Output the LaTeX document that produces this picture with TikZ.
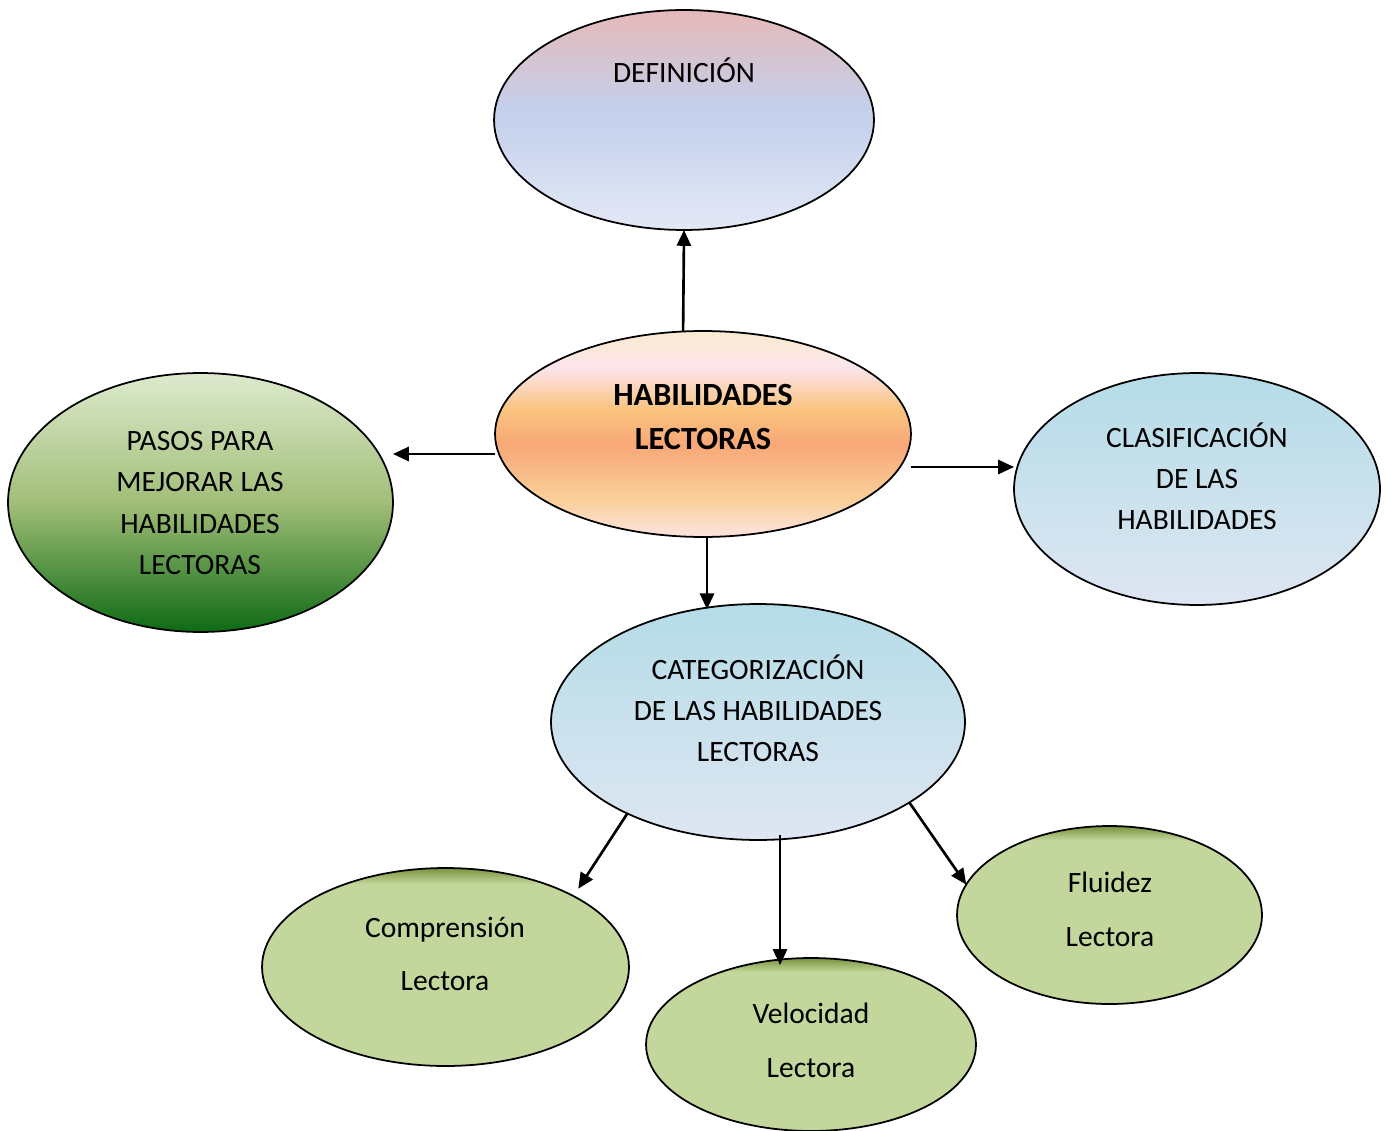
\documentclass[tikz,border=0pt]{standalone}
\usepackage{fontspec}
\setmainfont{Carlito}
\usetikzlibrary{shapes.geometric,arrows.meta,calc}
\definecolor{deftop}{HTML}{E6B9B8}
\definecolor{defmid}{HTML}{C3D0EC}
\definecolor{defbot}{HTML}{E3E8F5}
\definecolor{haba}{HTML}{FBEBD0}
\definecolor{habb}{HTML}{FCE4EC}
\definecolor{habc}{HTML}{F9C47E}
\definecolor{habd}{HTML}{F8A877}
\definecolor{habe}{HTML}{FAD09A}
\definecolor{habf}{HTML}{FCE4E0}
\definecolor{pastop}{HTML}{DDEACE}
\definecolor{pasmid}{HTML}{A2BE78}
\definecolor{pasbot}{HTML}{0D6A14}
\definecolor{bluetop}{HTML}{B4DCE7}
\definecolor{bluebot}{HTML}{DEE6F2}
\definecolor{grfill}{HTML}{C3D69B}
\definecolor{grtop}{HTML}{77933C}
\pgfdeclareverticalshading{defshade}{100bp}{color(0bp)=(defbot); color(25bp)=(defbot); color(52bp)=(defmid); color(75bp)=(deftop); color(100bp)=(deftop)}
\pgfdeclareverticalshading{habshade}{100bp}{color(0bp)=(habf); color(25bp)=(habf); color(34bp)=(habe); color(47.5bp)=(habd); color(56bp)=(habc); color(66bp)=(habb); color(75bp)=(haba); color(100bp)=(haba)}
\pgfdeclareverticalshading{passhade}{100bp}{color(0bp)=(pasbot); color(25bp)=(pasbot); color(50bp)=(pasmid); color(75bp)=(pastop); color(100bp)=(pastop)}
\pgfdeclareverticalshading{blueshade}{100bp}{color(0bp)=(bluebot); color(25bp)=(bluebot); color(75bp)=(bluetop); color(100bp)=(bluetop)}
\pgfdeclareverticalshading{greenshade}{100bp}{color(0bp)=(grfill); color(25bp)=(grfill); color(71bp)=(grfill); color(75bp)=(grtop); color(100bp)=(grtop)}
\begin{document}
\begin{tikzpicture}[x=0.02cm,y=-0.02cm,
  oval/.style={ellipse,draw=black,line width=1pt,inner sep=0pt,outer sep=0pt},
  txt/.style={align=center,inner sep=0pt,font=\fontsize{16.8}{23.4}\selectfont},
  gtxt/.style={align=center,inner sep=0pt,font=\fontsize{16.8}{30.6}\selectfont},
  arr/.style={line width=1.5pt,-{Triangle[length=9pt,width=8pt]}}]
\useasboundingbox (0,0) rectangle (1391,1131);
\fill[white] (0,0) rectangle (1391,1131);
% ovals
\node[oval,shading=defshade,minimum width=7.6cm,minimum height=4.4cm] (def) at (684,120) {};
\node[oval,shading=habshade,minimum width=8.32cm,minimum height=4.12cm] (hab) at (703,434) {};
\node[oval,shading=passhade,minimum width=7.7cm,minimum height=5.18cm] (pasos) at (200.5,502.5) {};
\node[oval,shading=blueshade,minimum width=7.32cm,minimum height=4.64cm] (clas) at (1197,489) {};
\node[oval,shading=blueshade,minimum width=8.28cm,minimum height=4.72cm] (cat) at (758,722) {};
\node[oval,shading=greenshade,minimum width=7.34cm,minimum height=3.96cm] (comp) at (445.5,967) {};
\node[oval,shading=greenshade,minimum width=6.6cm,minimum height=3.46cm] (vel) at (811,1044.5) {};
\node[oval,shading=greenshade,minimum width=6.1cm,minimum height=3.56cm] (flu) at (1109.5,915) {};
% texts
\node[txt] (tdef) at (684,70) {DEFINICIÓN};
\node[txt,font=\bfseries\fontsize{18.4}{25}\selectfont] (thab) at (703,417) {HABILIDADES\\LECTORAS};
\node[txt] (tpasos) at (200,503) {PASOS PARA\\MEJORAR LAS\\HABILIDADES\\LECTORAS};
\node[txt] (tclas) at (1197,476.5) {CLASIFICACIÓN\\DE LAS\\HABILIDADES};
\node[txt] (tcat) at (758,708.5) {CATEGORIZACIÓN\\DE LAS HABILIDADES\\LECTORAS};
\node[gtxt] (tcomp) at (445,954) {Comprensión\\Lectora};
\node[gtxt] (tvel) at (811,1040.5) {Velocidad\\Lectora};
\node[gtxt] (tflu) at (1110,909) {Fluidez\\Lectora};
% connectors
\draw[arr] (hab.101) -- (def.south);
\coordinate (h1) at ($(hab.west)+(0,20)$);
\draw[arr] (h1) -- (h1 -| pasos.east);
\coordinate (h2) at ($(hab.east)+(0,33)$);
\draw[arr] (h2) -- (h2 -| clas.west);
\coordinate (h3) at ($(hab.south)+(4,0)$);
\draw[arr,shorten >=-3pt] (h3) -- (h3 |- cat.north);
\draw[arr,shorten >=5pt] (cat.215) -- (comp.29);
\coordinate (c6) at ($(cat.south)+(22,-5)$);
\draw[arr,shorten >=-4pt] (c6) -- (c6 |- vel.north);
\draw[arr] (cat.-28) -- (flu.168);
\end{tikzpicture}
\end{document}
